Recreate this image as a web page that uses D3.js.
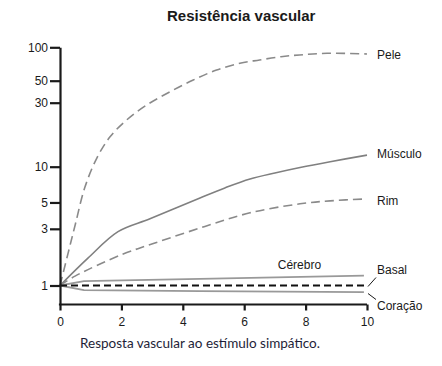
<!DOCTYPE html>
<html>
<head>
<meta charset="utf-8">
<script src="https://cdn.jsdelivr.net/npm/d3@7"></script>
<style>
  body { margin: 0; background: #fff; }
  svg { display: block; }
</style>
</head>
<body>
<div id="chart"></div>
<script>
// Values (x = estímulo simpático 0..10, y = resistência, log axis)
var xTicks = [0, 2, 4, 6, 8, 10];
var yTicks = [1, 3, 5, 10, 30, 50, 100];

var pelePos = [0, 0.27, 0.5, 0.81, 1.2, 1.63, 2.17, 2.82, 3.58, 4.34, 5.1, 5.86, 6.5, 7.2, 7.8, 8.7, 10];
var peleVal = [1, 1.9, 3.28, 6.7, 11.6, 16.7, 22.3, 28.8, 38.6, 50.7, 62.4, 71.7, 76.8, 82.3, 85.3, 88.3, 87];

var musculoPos = [0, 0.91, 1.89, 2.93, 4.56, 5.37, 6.19, 7.0, 7.82, 8.8, 10];
var musculoVal = [1, 1.7, 2.84, 3.64, 5.46, 6.63, 7.88, 8.86, 9.85, 10.9, 12.2];

var rimPos = [0, 0.49, 2.01, 3.09, 4.72, 6.19, 7.82, 8.8, 10];
var rimVal = [1, 1.2, 1.82, 2.28, 3.14, 4.09, 4.87, 5.16, 5.36];

var cerebroPos = [0, 0.78, 4.56, 9.9];
var cerebroVal = [1, 1.087, 1.138, 1.21];

var coracaoPos = [0, 0.78, 4.56, 9.9];
var coracaoVal = [1, 0.913, 0.896, 0.879];

var basalPos = [0, 10];
var basalVal = [1, 1];

var width = 442, height = 366;

var svg = d3.select("#chart").append("svg")
    .attr("width", width)
    .attr("height", height);

// Scales
var x = d3.scaleLinear()
    .domain([0, 10])
    .range([60, 367]);

// the printed axis is squeezed above 10, so use a piecewise log scale
var y = d3.scaleLog()
    .domain([0.693, 1, 10, 30, 50, 100])
    .range([304.5, 285.5, 166.7, 102.7, 80.7, 47.3]);

function zip(xs, ys) {
    return xs.map(function(d, i) { return [d, ys[i]]; });
}

var smooth = d3.line()
    .x(d => x(d[0]))
    .y(d => y(d[1]))
    .curve(d3.curveCatmullRom.alpha(0.5));

var straight = d3.line()
    .x(d => x(d[0]))
    .y(d => y(d[1]));

// Series
svg.append("path")
    .datum(zip(pelePos, peleVal))
    .attr("d", smooth)
    .attr("fill", "none")
    .attr("stroke", "#8a8a8a")
    .attr("stroke-width", 1.6)
    .attr("stroke-dasharray", "9,5");

svg.append("path")
    .datum(zip(musculoPos, musculoVal))
    .attr("d", smooth)
    .attr("fill", "none")
    .attr("stroke", "#808080")
    .attr("stroke-width", 1.6);

svg.append("path")
    .datum(zip(rimPos, rimVal))
    .attr("d", smooth)
    .attr("fill", "none")
    .attr("stroke", "#8a8a8a")
    .attr("stroke-width", 1.6)
    .attr("stroke-dasharray", "9,5");

svg.append("path")
    .datum(zip(cerebroPos, cerebroVal))
    .attr("d", straight)
    .attr("fill", "none")
    .attr("stroke", "#999")
    .attr("stroke-width", 1.8);

svg.append("path")
    .datum(zip(coracaoPos, coracaoVal))
    .attr("d", straight)
    .attr("fill", "none")
    .attr("stroke", "#999")
    .attr("stroke-width", 1.8);

svg.append("path")
    .datum(zip(basalPos, basalVal))
    .attr("d", straight)
    .attr("fill", "none")
    .attr("stroke", "#111")
    .attr("stroke-width", 2)
    .attr("stroke-dasharray", "7,4");

// Axes
var xAxis = svg.append("g")
    .attr("transform", "translate(0," + y(0.693) + ")")
    .call(d3.axisBottom(x)
        .tickValues(xTicks)
        .tickSize(6)
        .tickSizeOuter(0)
        .tickPadding(7));

var yAxis = svg.append("g")
    .attr("transform", "translate(" + x(0) + ",0)")
    .call(d3.axisLeft(y)
        .tickValues(yTicks)
        .tickFormat(d3.format("d"))
        .tickSize(10)
        .tickSizeOuter(0)
        .tickPadding(2));

[xAxis, yAxis].forEach(function(g) {
    g.select(".domain").attr("stroke", "#1a1a1a").attr("stroke-width", 2.2);
    g.selectAll(".tick line").attr("stroke", "#1a1a1a").attr("stroke-width", 2.2);
    g.selectAll(".tick text")
        .attr("fill", "#1a1a1a")
        .style("font-family", "'Liberation Sans', Arial, sans-serif")
        .style("font-size", "12px");
});
// square the axis corner
xAxis.select(".domain").attr("d", "M" + (x(0) - 1.1) + ",0H" + x(10));

// Series labels at the right end
var labelFont = "'Liberation Sans', Arial, sans-serif";
var xEnd = x(10);

function endLabel(name, yPos) {
    svg.append("text")
        .attr("x", xEnd + 10)
        .attr("y", yPos)
        .attr("dy", "0.35em")
        .attr("fill", "#1a1a1a")
        .style("font-family", labelFont)
        .style("font-size", "12px")
        .text(name);
}

endLabel("Pele", y(peleVal[peleVal.length - 1]) + 1);
endLabel("Músculo", y(musculoVal[musculoVal.length - 1]) - 1);
endLabel("Rim", y(rimVal[rimVal.length - 1]) + 2);
endLabel("Basal", y(1) - 16);
endLabel("Coração", y(1) + 20);

// leader lines for Basal and Coração
svg.append("line")
    .attr("x1", xEnd + 1).attr("y1", y(1) + 1)
    .attr("x2", xEnd + 9).attr("y2", y(1) - 8)
    .attr("stroke", "#1a1a1a").attr("stroke-width", 1);

svg.append("line")
    .attr("x1", xEnd + 1).attr("y1", y(1) + 8)
    .attr("x2", xEnd + 9).attr("y2", y(1) + 14)
    .attr("stroke", "#1a1a1a").attr("stroke-width", 1);

svg.append("text")
    .attr("x", x(7.8))
    .attr("y", y(1.2) - 7)
    .attr("text-anchor", "middle")
    .attr("fill", "#1a1a1a")
    .style("font-family", labelFont)
    .style("font-size", "12px")
    .text("Cérebro");

// Title
svg.append("text")
    .attr("x", 167)
    .attr("y", 20.5)
    .attr("fill", "#1a1a1a")
    .style("font-family", labelFont)
    .style("font-size", "15px")
    .style("font-weight", "bold")
    .text("Resistência vascular");

// Caption
svg.append("text")
    .attr("x", 80)
    .attr("y", 347.5)
    .attr("fill", "#1e1e38")
    .style("font-family", "Lato, 'Open Sans', sans-serif")
    .style("font-size", "13.5px")
    .text("Resposta vascular ao estímulo simpático.");
</script>
</body>
</html>
